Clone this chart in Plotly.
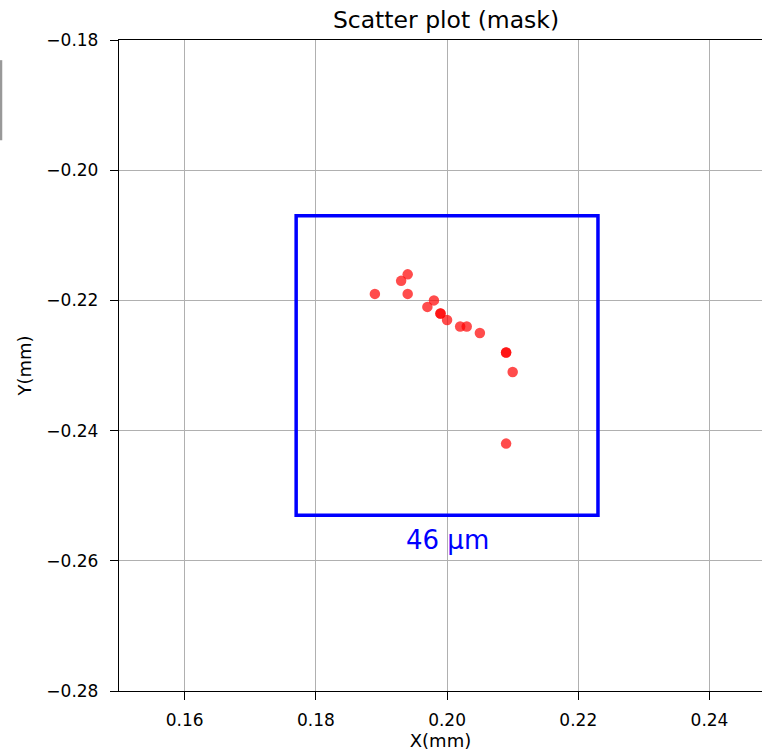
import plotly.graph_objects as go

# Data (mm)
x_vals = [0.189, 0.193, 0.194, 0.194, 0.198, 0.197, 0.199, 0.199, 0.200, 0.202, 0.203, 0.205, 0.209, 0.209, 0.210, 0.209]
y_vals = [-0.219, -0.217, -0.216, -0.219, -0.220, -0.221, -0.222, -0.222, -0.223, -0.224, -0.224, -0.225, -0.228, -0.228, -0.231, -0.242]

box_x = [0.177, 0.223]
box_y = [-0.253, -0.207]
box_label = "46 µm"

x_ticks = [0.16, 0.18, 0.20, 0.22, 0.24]
y_ticks = [-0.18, -0.20, -0.22, -0.24, -0.26, -0.28]

FONT = "DejaVu Sans"

fig = go.Figure()

fig.add_trace(go.Scatter(
    x=x_vals, y=y_vals, mode="markers",
    marker=dict(color="rgba(255,0,0,0.7)", size=10.5, line=dict(width=0)),
    showlegend=False, hoverinfo="skip",
))

fig.add_shape(type="rect", x0=box_x[0], x1=box_x[1], y0=box_y[0], y1=box_y[1],
              xref="x", yref="y", line=dict(color="#0000ff", width=3.5))

fig.add_annotation(x=(box_x[0] + box_x[1]) / 2, y=box_y[0], xref="x", yref="y",
                   text=box_label, showarrow=False, yanchor="top", yshift=-8,
                   font=dict(family=FONT, size=26, color="#0000ff"))

# cut-off element on the far left
fig.add_shape(type="line", xref="paper", yref="paper",
              x0=-0.1835, x1=-0.1835, y0=0.846, y1=0.969,
              line=dict(color="#999999", width=2.5))

fig.update_layout(
    width=762, height=753,
    margin=dict(l=119, r=0, t=40, b=62),
    paper_bgcolor="white", plot_bgcolor="white",
    font=dict(family=FONT, size=17, color="black"),
    title=dict(text="Scatter plot (mask)", x=(446 / 762), xanchor="center",
               y=1 - 20 / 753, yanchor="middle",
               font=dict(family=FONT, size=23.5, color="black")),
)

fig.update_xaxes(
    range=[0.15, 0.248], tickvals=x_ticks, tickformat=".2f",
    showgrid=True, gridcolor="#b0b0b0", gridwidth=1.4,
    showline=True, linecolor="black", linewidth=1.3, mirror=True,
    ticks="outside", ticklen=8, tickwidth=1.3, tickcolor="black",
    ticklabelstandoff=5,
    zeroline=False,
    title=dict(text="X(mm)", font=dict(family=FONT, size=18), standoff=4),
)

fig.update_yaxes(
    range=[-0.28, -0.18], tickvals=y_ticks, tickformat=".2f",
    showgrid=True, gridcolor="#b0b0b0", gridwidth=1.4,
    showline=True, linecolor="black", linewidth=1.3, mirror=False,
    ticks="outside", ticklen=8, tickwidth=1.3, tickcolor="black",
    ticklabelstandoff=8,
    zeroline=False,
    title=dict(text="Y(mm)", font=dict(family=FONT, size=18), standoff=10),
)

fig.write_html("out.html")
